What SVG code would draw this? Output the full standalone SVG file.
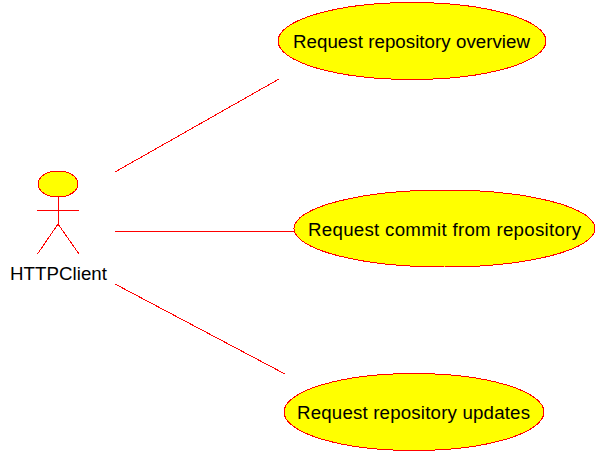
<svg xmlns="http://www.w3.org/2000/svg" width="597" height="452" viewBox="0 0 597 452">
<style>
.s{fill:#ffff00;stroke:#ff0000;stroke-width:1;shape-rendering:crispEdges}
.l{fill:none;stroke:#ff0000;stroke-width:1;shape-rendering:crispEdges}
text{font-family:"Liberation Sans",Arial,sans-serif;font-size:18.700px;fill:#000}
</style>
<rect width="597" height="452" fill="#fff"/>
<g id="connectors">
<line class="l" x1="115" y1="172" x2="279" y2="79"/>
<line class="l" x1="115" y1="231.500" x2="295" y2="231.500"/>
<line class="l" x1="115" y1="284" x2="285" y2="374"/>
</g>
<g id="actor">
<ellipse class="s" cx="58" cy="184" rx="20" ry="13"/>
<path class="l" d="M58 197V224M37 210.500H79M58 224L37.500 254M58 224L79 254"/>
<text x="10" y="280" textLength="97">HTTPClient</text>
</g>
<g id="uc1">
<ellipse class="s" cx="412" cy="41" rx="134" ry="38.500"/>
<text x="293" y="48" textLength="237">Request repository overview</text>
</g>
<g id="uc2">
<ellipse class="s" cx="444.500" cy="228.500" rx="150.500" ry="38.500"/>
<text x="308" y="236" textLength="273">Request commit from repository</text>
</g>
<g id="uc3">
<ellipse class="s" cx="414" cy="412" rx="130" ry="38.500"/>
<text x="297" y="419" textLength="233">Request repository updates</text>
</g>
</svg>
